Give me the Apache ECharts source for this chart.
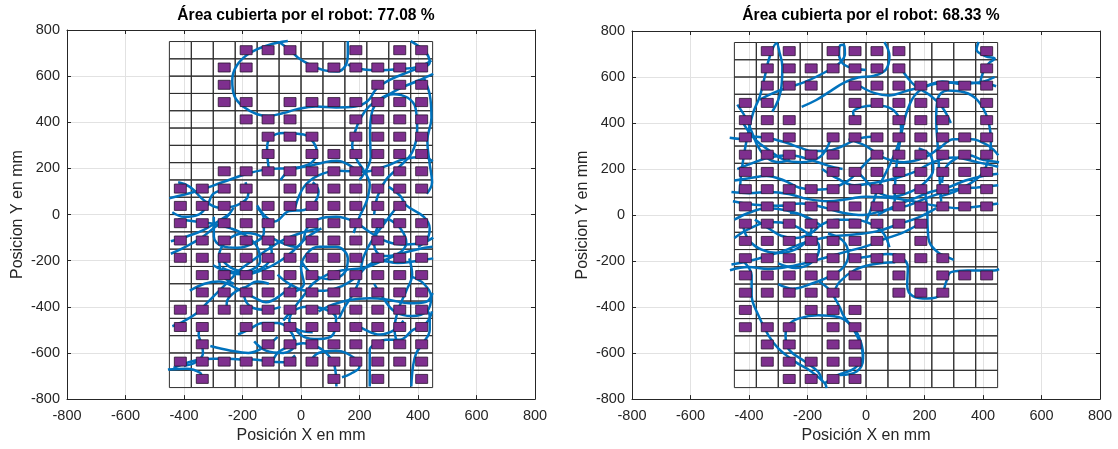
<!DOCTYPE html>
<html>
<head>
<meta charset="utf-8">
<script src="https://cdn.jsdelivr.net/npm/echarts@6/dist/echarts.min.js"></script>
<style>
html, body { margin: 0; padding: 0; background: #ffffff; }
#chart { width: 1118px; height: 449px; }
</style>
</head>
<body>
<div id="chart"></div>
<script>
// ---- Data -------------------------------------------------------------
const axisMin = -800;
const axisMax = 800;
const axisStep = 200;

const titles = ['Área cubierta por el robot: 77.08 %', 'Área cubierta por el robot: 68.33 %'];
const xName = 'Posición X en mm';
const yName = 'Posicion Y en mm';

// centres of the 12 x 20 cell grid (mm)
const cellX = [-412.5, -337.5, -262.5, -187.5, -112.5, -37.5, 37.5, 112.5, 187.5, 262.5, 337.5, 412.5];
const cellY = [712.5, 637.5, 562.5, 487.5, 412.5, 337.5, 262.5, 187.5, 112.5, 37.5,
               -37.5, -112.5, -187.5, -262.5, -337.5, -412.5, -487.5, -562.5, -637.5, -712.5];

// visited cells, one string per row from the top, one character per column
const visitedA = [
  '000111001011', '001100111111', '001000000111', '001101111111', '000111001111',
  '000011101111', '000010111111', '001111111111', '111101111111', '111111111110',
  '111110111111', '111111111111', '111111111111', '011111111111', '011111111111',
  '111111111111', '110111111111', '010011111111', '111111111111', '010000010101'
];
const visitedB = [
  '011011110001', '011111110001', '011101111111', '110001111101', '111001011101',
  '111011111111', '111110111111', '110011111111', '111111111111', '111111111111',
  '111111111000', '111111101000', '111111111100', '111111010111', '111110011100',
  '100111000000', '111011000000', '011011000000', '011111000000', '001111000000'
];

// robot trajectories (mm), split into pieces
const pathA = [
  [[-45,752],[-110,735],[-175,700],[-220,645],[-235,580],[-228,515],[-198,468],[-150,435],[-110,428],[-60,440],[-10,458],[50,468],[120,464],[185,468],[228,492],[258,545],[305,585],[375,622],[440,660],[425,705],[375,752]],
  [[-75,748],[-37,712],[-10,680],[30,650],[80,625],[125,620],[152,645],[160,695],[160,752]],
  [[160,650],[210,630],[270,626],[330,630],[400,640],[446,668]],
  [[200,150],[238,250],[236,350],[242,440],[270,500],[316,522],[365,506],[392,460],[397,370],[380,270],[330,200],[290,150],[262,80],[250,0]],
  [[420,592],[440,520],[446,420],[432,320],[440,220],[448,140],[430,90]],
  [[452,610],[400,580],[340,548],[280,505],[232,468],[205,420],[185,360],[175,300],[190,240],[215,190],[235,130],[225,60],[200,-10],[180,-80]],
  [[-110,198],[-116,284],[-105,333],[-59,354],[9,347],[43,312],[54,269],[37,226],[-3,205],[-40,190],[-70,150]],
  [[-450,71],[-355,102],[-264,142],[-184,177],[-105,198],[-37,201],[32,212],[77,226],[123,233],[168,212],[200,180]],
  [[-20,30],[10,120],[60,170],[130,190],[210,185],[290,210],[350,240],[420,250],[450,230]],
  [[-440,-484],[-412,-470],[-356,-427],[-322,-384],[-288,-341],[-243,-283],[-209,-240],[-163,-197],[-117,-154],[-60,-110],[0,-80],[60,-60]],
  [[-436,-665],[-390,-643],[-345,-628],[-299,-625],[-254,-625],[-208,-628],[-163,-628],[-117,-636],[-60,-640],[-20,-610]],
  [[-455,-672],[-391,-668],[-345,-686],[-339,-710]],
  [[-340,-470],[-350,-520],[-340,-560],[-335,-600],[-360,-640],[-400,-655]],
  [[-254,-430],[-254,-384],[-231,-341],[-186,-312],[-150,-290],[-110,-300]],
  [[-197,-312],[-191,-369],[-163,-405],[-117,-413],[-70,-400]],
  [[-445,-170],[-395,-140],[-340,-100],[-300,-60],[-260,-20],[-230,30]],
  [[-298,-10],[-298,-95],[-269,-137],[-218,-144],[-161,-123],[-127,-80],[-127,-20],[-150,30]],
  [[-445,-116],[-388,-94],[-332,-66],[-275,-23],[-241,5]],
  [[121,-745],[115,-658],[87,-601],[53,-572],[7,-558],[-38,-572],[-80,-600],[-100,-650]],
  [[235,-745],[235,-586],[258,-558],[292,-543],[337,-543],[383,-500],[428,-471],[448,-420]],
  [[377,-745],[383,-658],[394,-601],[417,-558],[440,-500],[440,-440],[420,-400]],
  [[60,-420],[110,-390],[166,-370],[235,-363],[303,-370],[371,-385],[428,-378],[450,-340]],
  [[-106,-97],[-61,-125],[-15,-140],[7,-111],[20,-60],[60,-20],[120,-10],[180,-30],[240,-80],[300,-120],[360,-130],[420,-120],[452,-100]],
  [[450,-140],[400,-150],[340,-170],[280,-200],[220,-230],[150,-240],[90,-260],[40,-300],[10,-350],[-20,-400],[-40,-460],[-10,-500],[40,-510]],
  [[130,-450],[150,-400],[180,-340],[200,-280],[210,-200],[230,-140],[260,-80],[290,-30],[320,20],[350,60]],
  [[-215,-520],[-180,-500],[-130,-470],[-80,-470],[-40,-500],[-20,-560],[-60,-600],[-120,-590],[-160,-550]],
  [[-300,-220],[-250,-250],[-190,-260],[-130,-240],[-70,-200],[-20,-150],[20,-100],[70,-60]],
  [[-420,-20],[-360,-30],[-300,-40],[-240,-60],[-190,-90],[-150,-140],[-140,-200],[-170,-240],[-220,-250],[-270,-230]],
  [[-280,-180],[-240,-230],[-180,-250],[-120,-220],[-100,-160],[-130,-100],[-190,-80],[-250,-110],[-280,-180],[-270,-260],[-230,-300]],
  [[0,-200],[40,-260],[100,-280],[150,-250],[160,-190],[120,-140],[60,-140],[20,-170],[0,-230],[10,-300],[-30,-340]],
  [[-80,-260],[-40,-300],[20,-330],[80,-330],[140,-310],[190,-270],[230,-220],[270,-200],[330,-210],[400,-200],[452,-190]],
  [[-380,-330],[-330,-300],[-280,-290],[-220,-320],[-160,-360],[-120,-380],[-70,-350],[-30,-300]],
  [[-60,-460],[-30,-420],[20,-400],[80,-410],[120,-450],[110,-520],[60,-540],[10,-530],[-30,-480]],
  [[250,-300],[280,-360],[320,-420],[380,-440],[430,-420],[445,-360],[420,-300],[380,-270]],
  [[-150,40],[-120,-10],[-90,-30],[-40,15],[10,20],[40,40],[60,100],[40,140]],
  [[300,120],[340,80],[360,40],[420,-10],[440,-60],[430,-110],[400,-140]],
  [[300,-20],[340,-60],[360,-120],[330,-170],[280,-180],[250,-130],[260,-60],[290,-20]],
  [[-420,140],[-380,120],[-330,60],[-280,30],[-220,40],[-180,90],[-190,140]],
  [[-440,10],[-400,-10],[-350,0],[-320,40],[-300,90],[-250,110]],
  [[-310,-570],[-240,-590],[-180,-600],[-120,-570],[-80,-530]],
  [[30,-640],[60,-600],[120,-590],[180,-620],[200,-660],[170,-690],[140,-705]],
  [[180,-470],[220,-500],[270,-520],[320,-500],[350,-460]],
  [[330,-560],[320,-500],[330,-420],[360,-330],[380,-260],[370,-190]]
];

const pathB = [
  [[-432,98],[-426,184],[-414,285],[-403,357],[-386,444],[-363,516],[-346,602],[-329,689],[-306,747],[-295,703],[-286,646],[-289,559],[-300,500],[-320,450]],
  [[-363,502],[-318,530],[-261,556],[-204,581],[-135,624],[-95,655],[-72,700],[-75,740],[-88,738],[-92,700],[-80,660],[-50,640],[0,630]],
  [[63,752],[80,692],[69,634],[29,606],[-27,598],[-73,577],[-120,540],[-170,500],[-220,470]],
  [[-39,418],[-44,447],[-16,469],[29,476],[75,469],[109,433],[120,375],[109,303],[75,202],[41,115],[18,29],[0,-30]],
  [[257,58],[251,174],[245,303],[240,418],[245,505],[279,541],[336,534],[382,498],[416,418],[427,317],[416,231],[393,174],[347,130],[302,101],[250,80]],
  [[98,58],[103,202],[120,346],[143,461],[177,534],[234,570],[325,577],[416,570],[445,560]],
  [[385,752],[378,720],[410,690],[440,680],[420,660],[400,620],[390,570]],
  [[-466,336],[-426,331],[-409,343],[-340,336],[-272,314],[-226,293],[-181,278],[-130,280],[-80,300],[-30,330],[20,340]],
  [[-460,100],[-400,95],[-330,100],[-260,90],[-200,70],[-130,60],[-60,70],[0,80],[80,75],[160,60],[240,40],[320,30],[400,40],[452,50]],
  [[-455,60],[-380,45],[-300,40],[-220,50],[-150,35],[-80,10],[-10,0],[60,20],[140,40],[220,80],[300,110],[380,120],[452,130]],
  [[-450,150],[-400,160],[-340,170],[-280,150],[-230,120],[-170,110],[-110,120],[-60,150],[-20,200],[20,250],[60,270]],
  [[-440,200],[-380,230],[-330,250],[-260,260],[-190,240],[-130,215],[-80,200]],
  [[-465,-240],[-402,-226],[-334,-234],[-243,-219],[-152,-190],[-73,-161],[7,-133],[63,-104],[120,-80],[180,-40]],
  [[-460,-215],[-400,-200],[-330,-175],[-270,-150],[-210,-120],[-130,-95],[-40,-85],[40,-70],[110,-40],[180,-10],[240,30]],
  [[-420,-50],[-400,-110],[-357,-150],[-300,-165],[-243,-150],[-198,-105],[-186,-50],[-210,-5],[-260,10]],
  [[-380,-20],[-330,-60],[-290,-90],[-240,-100],[-190,-80],[-150,-40],[-100,-20],[-40,-20],[20,-40],[60,-80],[80,-140]],
  [[-420,-200],[-391,-262],[-391,-349],[-368,-435],[-334,-522],[-300,-580],[-243,-637],[-186,-681],[-141,-731],[-135,-752]],
  [[-141,-731],[-95,-695],[-39,-666],[-10,-609],[-22,-536],[-50,-479],[-95,-443],[-164,-435],[-232,-450],[-266,-479],[-275,-522],[-266,-580],[-209,-637],[-164,-681],[-150,-720]],
  [[-160,-290],[-124,-327],[-90,-400],[-78,-435],[-32,-521],[-10,-622],[-32,-680],[-89,-695]],
  [[-40,-190],[29,-176],[75,-169],[120,-183],[143,-226],[141,-306],[160,-352],[211,-363],[257,-346],[274,-291],[291,-248],[347,-241],[438,-241],[455,-235]],
  [[200,120],[209,26],[211,-60],[217,-118],[245,-161],[279,-183],[300,-195]],
  [[452,180],[400,170],[340,150],[280,120],[220,100],[160,70],[100,40],[40,0]],
  [[455,230],[400,240],[350,260],[300,240],[270,200],[260,140]],
  [[-440,480],[-410,420],[-390,360],[-370,300],[-340,250],[-300,230],[-260,240]],
  [[-450,-100],[-400,-60],[-330,-30],[-260,-40],[-200,-80],[-160,-140],[-180,-200],[-240,-230],[-300,-210]],
  [[-300,-300],[-250,-320],[-190,-300],[-130,-270],[-80,-230],[-60,-170],[-80,-110],[-130,-80]],
  [[-110,-340],[-90,-290],[-40,-240],[20,-215],[100,-205]],
  [[-60,330],[0,300],[60,250],[130,230],[200,250],[250,290],[300,330],[360,330],[420,300],[452,260]],
  [[-150,200],[-100,160],[-40,130],[30,140],[100,160],[170,190],[230,230],[300,250],[380,230],[452,210]],
  [[-30,190],[0,150],[40,100],[90,80],[150,100],[200,140],[230,200],[220,260],[180,290]],
  [[-20,560],[30,530],[80,520],[140,540],[200,560],[260,580],[330,570],[400,580],[440,600]],
  [[120,640],[140,600],[170,560],[220,520],[260,470],[290,400]],
  [[-420,400],[-380,330],[-330,280],[-280,240],[-220,230],[-160,250],[-130,300],[-120,345]],
  [[-450,-20],[-400,10],[-340,30],[-270,20],[-200,-10],[-150,-50]]
];

// ---- Chart ------------------------------------------------------------
const fontFamily = '"Liberation Sans", Arial, Helvetica, sans-serif';
const ink = '#262626';
const cellHalf = 37.5;

function visitedPoints(rows) {
  const pts = [];
  rows.forEach((row, r) => {
    for (let c = 0; c < row.length; c++) {
      if (row[c] === '1') pts.push([cellX[c], cellY[r]]);
    }
  });
  return pts;
}

const allCells = [];
cellY.forEach(y => cellX.forEach(x => allCells.push([x, y])));

function renderCell(params, api) {
  const x = api.value(0), y = api.value(1);
  const p0 = api.coord([x - cellHalf, y + cellHalf]);
  const p1 = api.coord([x + cellHalf, y - cellHalf]);
  return {
    type: 'rect',
    shape: { x: p0[0], y: p0[1], width: p1[0] - p0[0], height: p1[1] - p0[1] },
    style: { fill: 'none', stroke: '#2e2e2e', lineWidth: 1 }
  };
}

const grids = [
  { left: 67, top: 30, width: 468, height: 370 },
  { left: 632, top: 31, width: 468, height: 370 }
];

const xAxes = [], yAxes = [], series = [], titleOpts = [];

grids.forEach((g, i) => {
  const base = { gridIndex: i, type: 'value', min: axisMin, max: axisMax, interval: axisStep };
  xAxes.push(Object.assign({}, base, {
    position: 'bottom',
    axisLine: { show: true, onZero: false, lineStyle: { color: ink, width: 1 } },
    axisTick: { show: true, inside: true, length: 4, lineStyle: { color: ink } },
    axisLabel: { color: ink, fontSize: 14.5, margin: 9, fontFamily },
    splitLine: { show: true, lineStyle: { color: '#e2e2e2', width: 1 } },
    name: xName, nameLocation: 'middle', nameGap: 28,
    nameTextStyle: { color: ink, fontSize: 16, fontFamily }
  }));
  xAxes.push(Object.assign({}, base, {
    position: 'top',
    axisLine: { show: true, onZero: false, lineStyle: { color: ink, width: 1 } },
    axisTick: { show: true, inside: true, length: 4, lineStyle: { color: ink } },
    axisLabel: { show: false },
    splitLine: { show: false }
  }));
  yAxes.push(Object.assign({}, base, {
    position: 'left',
    axisLine: { show: true, onZero: false, lineStyle: { color: ink, width: 1 } },
    axisTick: { show: true, inside: true, length: 4, lineStyle: { color: ink } },
    axisLabel: { color: ink, fontSize: 14.5, margin: 7, fontFamily },
    splitLine: { show: true, lineStyle: { color: '#e2e2e2', width: 1 } },
    name: yName, nameLocation: 'middle', nameGap: 41,
    nameTextStyle: { color: ink, fontSize: 16, fontFamily }
  }));
  yAxes.push(Object.assign({}, base, {
    position: 'right',
    axisLine: { show: true, onZero: false, lineStyle: { color: ink, width: 1 } },
    axisTick: { show: true, inside: true, length: 4, lineStyle: { color: ink } },
    axisLabel: { show: false },
    splitLine: { show: false }
  }));

  titleOpts.push({
    text: titles[i],
    left: g.left + g.width / 2,
    top: 3,
    textAlign: 'center',
    textStyle: { fontSize: 15.6, fontWeight: 'bold', color: '#000', fontFamily }
  });

  const xIdx = i * 2, yIdx = i * 2;

  series.push({
    type: 'custom', xAxisIndex: xIdx, yAxisIndex: yIdx, z: 2,
    renderItem: renderCell, data: allCells, silent: true, clip: false
  });

  const paths = i === 0 ? pathA : pathB;
  paths.forEach(p => {
    series.push({
      type: 'line', xAxisIndex: xIdx, yAxisIndex: yIdx, z: 3,
      data: p, smooth: 0.4, showSymbol: false, symbol: 'none', silent: true,
      lineStyle: { color: '#0072BD', width: 2.5 }, clip: false
    });
  });

  series.push({
    type: 'scatter', xAxisIndex: xIdx, yAxisIndex: yIdx, z: 4,
    data: visitedPoints(i === 0 ? visitedA : visitedB),
    symbol: 'rect', symbolSize: [12, 9], silent: true,
    itemStyle: { color: '#7E2F8E', borderColor: '#2a1530', borderWidth: 0.8, opacity: 1 }
  });
});

const chart = echarts.init(document.getElementById('chart'), null, { renderer: 'canvas' });
chart.setOption({
  animation: false,
  backgroundColor: '#ffffff',
  title: titleOpts,
  grid: grids,
  xAxis: xAxes,
  yAxis: yAxes,
  series: series
});
</script>
</body>
</html>
